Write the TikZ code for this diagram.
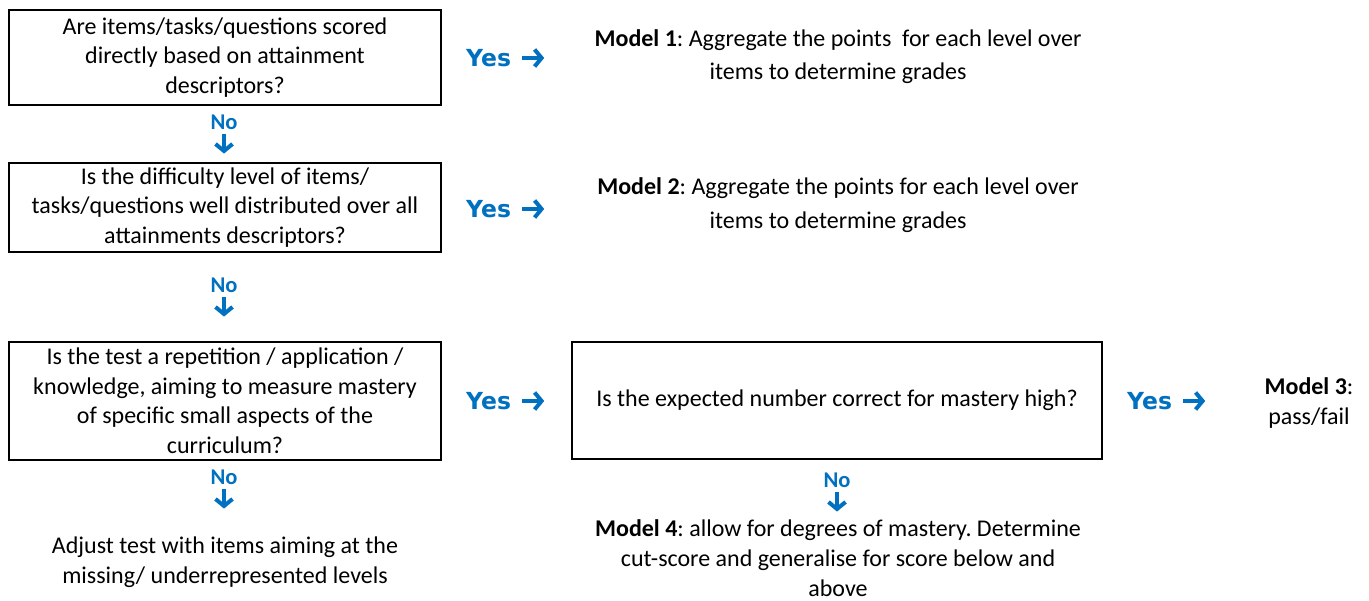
\documentclass[tikz,border=0pt]{standalone}
\usepackage{fontspec}
\setmainfont{Carlito}
\newfontfamily\verd{DejaVu Sans}
\usetikzlibrary{arrows.meta}
\definecolor{ansblue}{HTML}{0070C0}
\frenchspacing
\tikzset{
  qbox/.style={draw,line width=2pt,align=center,inner sep=0pt,
    font=\fontsize{24}{29.5}\selectfont},
  yes/.style={anchor=west,text=ansblue,inner sep=0pt,
    font=\verd\bfseries\fontsize{23.5}{25}\selectfont},
  no/.style={text=ansblue,inner sep=0pt,
    font=\bfseries\fontsize{22.5}{23}\selectfont},
  model/.style={align=center,inner sep=0pt,font=\fontsize{24}{30}\selectfont},
  arr/.style={ansblue,line width=4pt,-{Straight Barb[length=7pt,width=17pt]}},
}
\begin{document}
\begin{tikzpicture}[x=1pt,y=-1pt]
  \useasboundingbox (0,0) rectangle (1369,601);
  % questions
  \node[qbox,minimum width=432pt,minimum height=95pt] (q1) at (225,57.5)
    {Are items/tasks/questions scored\\directly based on attainment\\descriptors?};
  \node[qbox,minimum width=432pt,minimum height=89pt] (q2) at (225,207.5)
    {Is the difficulty level of items/\\tasks/questions well distributed over all\\attainments descriptors?};
  \node[qbox,minimum width=432pt,minimum height=118pt] (q3) at (225,401)
    {Is the test a repetition / application /\\knowledge, aiming to measure mastery\\of specific small aspects of the\\curriculum?};
  \node[qbox,minimum width=530pt,minimum height=117pt] (q4) at (837,400.5)
    {Is the expected number correct for mastery high?};
  % answers
  \node[yes] (yes1) at (466,58) {Yes};
  \node[yes] (yes2) at (466,209) {Yes};
  \node[yes] (yes3) at (466,401) {Yes};
  \node[yes] (yes4) at (1127,401) {Yes};
  \foreach \y in {yes1,yes2,yes3,yes4}
    \draw[arr] ([xshift=11pt]\y.east) -- ++(22,0);
  \node[no] (no1) at (224,122) {No};
  \node[no] (no2) at (224,285) {No};
  \node[no] (no3) at (224,477) {No};
  \node[no] (no4) at (837,480) {No};
  \foreach \n in {no1,no2,no3,no4}
    \draw[arr] ([yshift=-4pt]\n.south) -- ++(0,20);
  % outcomes
  \node[model,font=\fontsize{24}{33}\selectfont] (m1) at (838,56.5)
    {\textbf{Model 1}: Aggregate the points\ \ for each level over\\items to determine grades};
  \node[model,font=\fontsize{24}{34}\selectfont] (m2) at (838,205)
    {\textbf{Model 2}: Aggregate the points for each level over\\items to determine grades};
  \node[model] (m3) at (1309,403) {\textbf{Model 3}:\\pass/fail};
  \node[model] (m4) at (838,558)
    {\textbf{Model 4}: allow for degrees of mastery. Determine\\cut-score and generalise for score below and\\above};
  \node[model] (adj) at (225,562)
    {Adjust test with items aiming at the\\missing/ underrepresented levels};
\end{tikzpicture}
\end{document}
